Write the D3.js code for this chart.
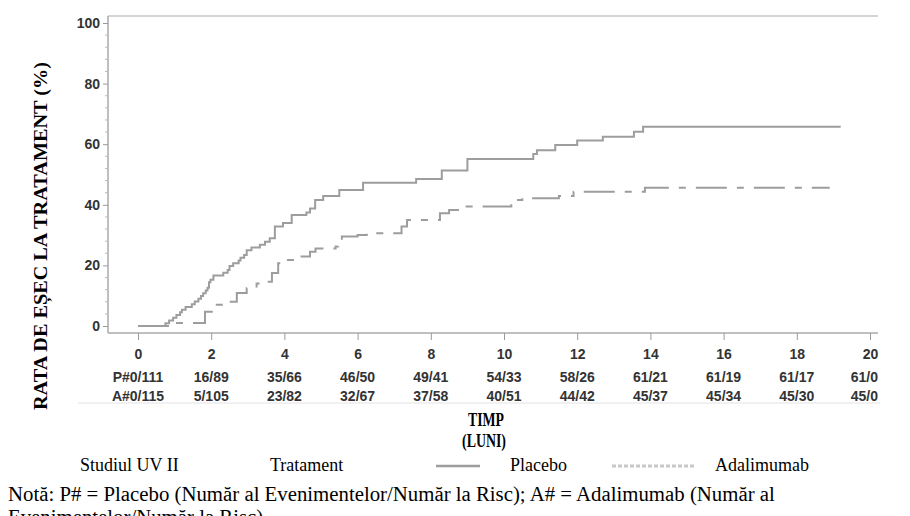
<!DOCTYPE html>
<html>
<head>
<meta charset="utf-8">
<script src="https://cdn.jsdelivr.net/npm/d3@7"></script>
<style>
  body { margin: 0; background: #fff; }
  .tick text { font-family: "Liberation Sans", Arial, sans-serif; font-size: 14px; font-weight: bold; fill: #333; }
  .risk { font-family: "Liberation Sans", Arial, sans-serif; font-size: 14px; font-weight: bold; fill: #333; }
  .serif { font-family: "Liberation Serif", "Times New Roman", serif; }
</style>
</head>
<body>
<div id="chart"></div>
<script>
// step points: [month, failure rate %]
const placebo = [[0,0],[0.65,0],[0.75,0.9],[0.85,1.8],[0.96,2.7],[1.05,3.6],[1.15,4.5],[1.2,5.4],[1.3,6.3],
  [1.47,7.2],[1.55,8.1],[1.65,9.0],[1.72,9.9],[1.78,10.8],[1.85,11.7],[1.9,12.6],[1.94,14.4],[1.98,15.3],
  [2.06,16.7],[2.33,17.6],[2.45,18.5],[2.5,19.8],[2.6,20.7],[2.75,21.6],[2.8,22.5],[2.9,23.4],[2.97,25.0],
  [3.1,25.9],[3.33,26.8],[3.47,27.8],[3.6,29.0],[3.74,32.8],[3.96,34.0],[4.2,36.6],[4.6,37.5],[4.7,38.8],
  [4.84,41.6],[5.06,42.9],[5.5,44.9],[6.15,47.3],[7.6,48.5],[8.3,51.3],[9.0,55.1],[10.8,56.8],[10.9,58.0],
  [11.4,59.7],[12.0,61.2],[12.7,62.5],[13.55,64.1],[13.8,65.8],[19.2,65.8]];
const adalimumab = [[0,0],[0.95,1.0],[1.83,4.7],[2.06,7.0],[2.4,8.0],[2.7,10.9],[2.97,12.5],[3.24,14.0],
  [3.5,14.6],[3.66,17.5],[3.83,20.7],[3.97,21.8],[4.4,22.9],[4.7,24.5],[4.85,25.6],[5.4,26.2],[5.47,27.8],
  [5.57,29.5],[6.0,30.0],[6.25,30.6],[7.2,32.8],[7.35,35.0],[8.25,37.2],[8.5,38.3],[8.8,39.4],[10.2,41.0],
  [10.35,41.6],[10.5,42.2],[11.5,42.9],[11.9,44.3],[13.85,45.6],[18.9,45.6]];

const xTicks = [0,2,4,6,8,10,12,14,16,18,20];
const yTicks = [0,20,40,60,80,100];
const placeboRisk = ["P#0/111","16/89","35/66","46/50","49/41","54/33","58/26","61/21","61/19","61/17","61/0"];
const adaRisk = ["A#0/115","5/105","23/82","32/67","37/58","40/51","44/42","45/37","45/34","45/30","45/0"];

const width = 910, height = 516;
const grey = "#9d9d9d";

let svg = d3.select("#chart")
    .append("svg")
    .attr("width", width)
    .attr("height", height);

let x = d3.scaleLinear().domain([0, 20]).range([138, 870]);
let y = d3.scaleLinear().domain([0, 100]).range([326, 23]);

// frame: top border, left axis, bottom axis
svg.append("line").attr("x1", 108).attr("x2", 878).attr("y1", 16).attr("y2", 16)
    .attr("stroke", "#d4d4d4").attr("stroke-width", 2);
svg.append("line").attr("x1", 108).attr("x2", 108).attr("y1", 16).attr("y2", 333)
    .attr("stroke", "#aaa").attr("stroke-width", 1.5);
svg.append("line").attr("x1", 108).attr("x2", 878).attr("y1", 333).attr("y2", 333)
    .attr("stroke", "#aaa").attr("stroke-width", 1.5);

// y axis
let yAxis = svg.append("g")
    .attr("transform", "translate(108,0)")
    .call(d3.axisLeft(y).tickValues(yTicks).tickSize(5).tickPadding(3));
yAxis.select(".domain").remove();
yAxis.selectAll("line").attr("stroke", "#999");

// minor y ticks
svg.append("g").selectAll("line")
    .data(d3.range(0, 101, 4).filter(v => v % 20 != 0))
    .join("line")
    .attr("x1", 105).attr("x2", 108)
    .attr("y1", d => y(d)).attr("y2", d => y(d))
    .attr("stroke", "#bbb");

// x axis
let xAxis = svg.append("g")
    .attr("transform", "translate(0,333)")
    .call(d3.axisBottom(x).tickValues(xTicks).tickSize(7).tickPadding(9));
xAxis.select(".domain").remove();
xAxis.selectAll("line").attr("stroke", "#999");

// number at risk table
svg.append("g").selectAll("text")
    .data(placeboRisk)
    .join("text")
    .attr("class", "risk")
    .attr("x", (d, i) => i == xTicks.length - 1 ? x(xTicks[i]) + 8 : x(xTicks[i]))
    .attr("y", 382)
    .attr("text-anchor", (d, i) => i == xTicks.length - 1 ? "end" : "middle")
    .text(d => d);
svg.append("g").selectAll("text")
    .data(adaRisk)
    .join("text")
    .attr("class", "risk")
    .attr("x", (d, i) => i == xTicks.length - 1 ? x(xTicks[i]) + 8 : x(xTicks[i]))
    .attr("y", 401)
    .attr("text-anchor", (d, i) => i == xTicks.length - 1 ? "end" : "middle")
    .text(d => d);
svg.append("line").attr("x1", 78).attr("x2", 880).attr("y1", 403).attr("y2", 403)
    .attr("stroke", "#e2e2e2");

// curves
let line = d3.line()
    .x(d => x(d[0]))
    .y(d => y(d[1]))
    .curve(d3.curveStepAfter);

svg.append("path")
    .datum(placebo)
    .attr("fill", "none")
    .attr("stroke", grey)
    .attr("stroke-width", 2)
    .attr("d", line);

svg.append("path")
    .datum(adalimumab)
    .attr("fill", "none")
    .attr("stroke", grey)
    .attr("stroke-width", 2)
    .attr("stroke-dasharray", "31 10 7 10")
    .attr("d", line);

// axis titles
svg.append("text")
    .attr("class", "serif")
    .attr("transform", "translate(47,236) rotate(-90)")
    .attr("text-anchor", "middle")
    .attr("textLength", 348)
    .attr("lengthAdjust", "spacingAndGlyphs")
    .style("font-size", "18.5px").style("font-weight", "bold")
    .text("RATA DE EȘEC LA TRATAMENT (%)");

svg.append("text")
    .attr("class", "serif")
    .attr("x", 486).attr("y", 426)
    .attr("text-anchor", "middle")
    .attr("textLength", 36)
    .attr("lengthAdjust", "spacingAndGlyphs")
    .style("font-size", "18.5px").style("font-weight", "bold")
    .text("TIMP");
svg.append("text")
    .attr("class", "serif")
    .attr("x", 484).attr("y", 447)
    .attr("text-anchor", "middle")
    .attr("textLength", 44)
    .attr("lengthAdjust", "spacingAndGlyphs")
    .style("font-size", "18.5px").style("font-weight", "bold")
    .text("(LUNI)");

// legend
let legend = svg.append("g")
    .attr("class", "serif")
    .style("font-size", "18px");
legend.append("text").attr("x", 80).attr("y", 471).text("Studiul UV II");
legend.append("text").attr("x", 270).attr("y", 471).text("Tratament");
legend.append("line").attr("x1", 436).attr("x2", 480).attr("y1", 466).attr("y2", 466)
    .attr("stroke", grey).attr("stroke-width", 2.5);
legend.append("text").attr("x", 510).attr("y", 471).text("Placebo");
legend.append("line").attr("x1", 612).attr("x2", 696).attr("y1", 466).attr("y2", 466)
    .attr("stroke", "#c8c8c8").attr("stroke-width", 3).attr("stroke-dasharray", "4 2");
legend.append("text").attr("x", 715).attr("y", 471).text("Adalimumab");

// note
let note = svg.append("g")
    .attr("class", "serif")
    .style("font-size", "20.8px");
note.append("text").attr("x", 8).attr("y", 501)
    .text("Notă: P# = Placebo (Număr al Evenimentelor/Număr la Risc); A# = Adalimumab (Număr al");
note.append("text").attr("x", 8).attr("y", 524)
    .text("Evenimentelor/Număr la Risc)");
</script>
</body>
</html>
